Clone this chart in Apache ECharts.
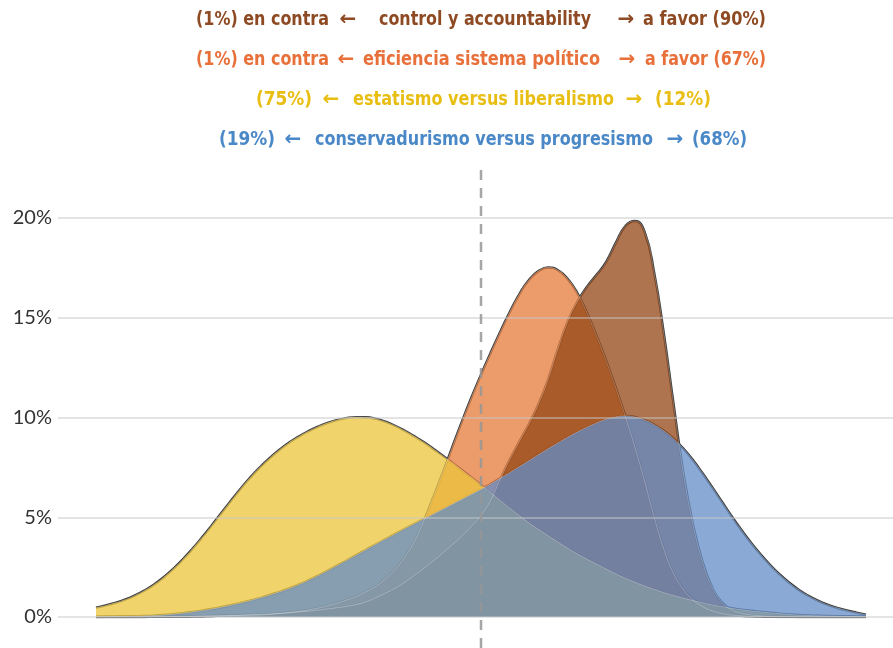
<!DOCTYPE html>
<html>
<head>
<meta charset="utf-8">
<script src="https://cdn.jsdelivr.net/npm/echarts@6/dist/echarts.min.js"></script>
<style>
html,body{margin:0;padding:0;background:#fff;}
#chart{width:893px;height:648px;}
</style>
</head>
<body>
<div id="chart"></div>
<script>
// ---- data ----
const xValues = [
  -1, -0.975, -0.95, -0.925, -0.9, -0.875, -0.85, -0.825, -0.8, -0.775,
  -0.75, -0.725, -0.7, -0.675, -0.65, -0.625, -0.6, -0.575, -0.55, -0.525,
  -0.5, -0.475, -0.45, -0.425, -0.4, -0.375, -0.35, -0.325, -0.3, -0.275,
  -0.25, -0.225, -0.2, -0.175, -0.15, -0.125, -0.1, -0.075, -0.05, -0.025,
  0, 0.025, 0.05, 0.075, 0.1, 0.125, 0.15, 0.175, 0.2, 0.225,
  0.25, 0.275, 0.3, 0.325, 0.35, 0.375, 0.4, 0.425, 0.45, 0.475,
  0.5, 0.525, 0.55, 0.575, 0.6, 0.625, 0.65, 0.675, 0.7, 0.725,
  0.75, 0.775, 0.8, 0.825, 0.85, 0.875, 0.9, 0.925, 0.95, 0.975, 1];

const eficiencia = [
  0, 0, 0, 0, 0, 0, 0.01, 0.01, 0.02, 0.02,
  0.03, 0.04, 0.05, 0.06, 0.07, 0.08, 0.09, 0.1, 0.13, 0.17,
  0.22, 0.28, 0.35, 0.44, 0.55, 0.68, 0.84, 1.02, 1.25, 1.52,
  1.88, 2.35, 2.95, 3.72, 4.75, 5.95, 7.2, 8.5, 9.78, 11.0,
  12.15, 13.25, 14.3, 15.3, 16.2, 16.9, 17.35, 17.52, 17.38, 16.95,
  16.25, 15.25, 14.1, 12.85, 11.5, 10.05, 8.5, 6.8, 5.0, 3.4,
  2.2, 1.4, 0.87, 0.53, 0.31, 0.18, 0.1, 0.06, 0.03, 0.02,
  0.01, 0, 0, 0, 0, 0, 0, 0, 0, 0, 0];

const control = [
  0, 0, 0, 0, 0, 0, 0.01, 0.01, 0.02, 0.02,
  0.03, 0.04, 0.05, 0.06, 0.07, 0.09, 0.11, 0.13, 0.15, 0.18,
  0.21, 0.25, 0.29, 0.34, 0.4, 0.46, 0.53, 0.62, 0.75, 0.95,
  1.18, 1.42, 1.72, 2.06, 2.42, 2.8, 3.2, 3.62, 4.06, 4.55,
  5.1, 5.85, 6.9, 7.9, 8.8, 9.7, 10.7, 11.95, 13.45, 14.8,
  15.8, 16.55, 17.15, 17.8, 18.75, 19.6, 19.85, 19.3, 17.25, 14.2,
  10.7, 7.3, 4.7, 2.8, 1.5, 0.75, 0.38, 0.2, 0.11, 0.06,
  0.03, 0.02, 0.01, 0, 0, 0, 0, 0, 0, 0, 0];

const estatismo = [
  0.47, 0.58, 0.71, 0.87, 1.07, 1.32, 1.62, 1.98, 2.4, 2.88,
  3.41, 3.98, 4.58, 5.2, 5.82, 6.42, 6.98, 7.49, 7.95, 8.36,
  8.72, 9.03, 9.3, 9.53, 9.72, 9.87, 9.97, 10.02, 10.01, 9.94,
  9.8, 9.6, 9.36, 9.08, 8.78, 8.45, 8.1, 7.74, 7.37, 7.0,
  6.62, 6.23, 5.84, 5.45, 5.07, 4.71, 4.38, 4.06, 3.75, 3.45,
  3.16, 2.9, 2.65, 2.4, 2.16, 1.94, 1.74, 1.55, 1.38, 1.22,
  1.08, 0.95, 0.83, 0.72, 0.61, 0.52, 0.44, 0.37, 0.31, 0.26,
  0.21, 0.17, 0.13, 0.1, 0.08, 0.06, 0.05, 0.04, 0.03, 0.02, 0.02];

const conservadurismo = [
  0, 0.01, 0.02, 0.03, 0.04, 0.05, 0.07, 0.1, 0.14, 0.19,
  0.25, 0.32, 0.4, 0.49, 0.59, 0.7, 0.82, 0.95, 1.09, 1.25,
  1.42, 1.61, 1.82, 2.05, 2.3, 2.56, 2.82, 3.09, 3.36, 3.62,
  3.88, 4.14, 4.4, 4.65, 4.9, 5.15, 5.4, 5.65, 5.9, 6.15,
  6.4, 6.67, 6.95, 7.24, 7.54, 7.84, 8.14, 8.44, 8.73, 9.01,
  9.27, 9.51, 9.73, 9.91, 10.03, 10.08, 10.02, 9.87, 9.64, 9.33,
  8.94, 8.46, 7.88, 7.22, 6.52, 5.8, 5.08, 4.4, 3.76, 3.17,
  2.63, 2.15, 1.73, 1.37, 1.07, 0.82, 0.62, 0.46, 0.33, 0.22, 0.12];

const seriesNames = ['eficiencia sistema político', 'control y accountability', 'estatismo versus liberalismo', 'conservadurismo versus progresismo'];
const seriesValues = [eficiencia, control, estatismo, conservadurismo];
const fillColors = ['#E67A3A', '#934614', '#ECC43A', '#638CC7'];

// title lines (top to bottom)
const titleMiddle = ['control y accountability', 'eficiencia sistema político', 'estatismo versus liberalismo', 'conservadurismo versus progresismo'];
const titleLeft = ['(1%) en contra', '(1%) en contra', '(75%)', '(19%)'];
const titleRight = ['a favor (90%)', 'a favor (67%)', '(12%)', '(68%)'];
const titleColors = ['#8E4A22', '#E8703A', '#E9BE12', '#4A88C7'];

const yTickInterval = 5;

// ---- layout (positions and target widths of title pieces) ----
const titleLayout = [
  {y: 20, left: [196, 329], arrL: 348, mid: [379, 591], arrR: 626, right: [643, 766]},
  {y: 60, left: [196, 329], arrL: 346, mid: [363, 600], arrR: 627, right: [645, 766]},
  {y: 100, left: [256, 312], arrL: 331, mid: [353, 614], arrR: 634, right: [655, 711]},
  {y: 140, left: [219, 275], arrL: 293, mid: [315, 653], arrR: 675, right: [692, 747]}
];
const titleFont = "bold 20px 'Liberation Sans Narrow', 'DejaVu Sans Condensed', 'Roboto', sans-serif";
const arrowFont = "bold 20px 'DejaVu Sans', sans-serif";

const measureCtx = document.createElement('canvas').getContext('2d');
function textWidth(t, font) { measureCtx.font = font; return measureCtx.measureText(t).width; }

const graphics = [];
titleLayout.forEach((L, i) => {
  const c = titleColors[i];
  const mk = (text, span, align, font) => {
    let x, sx = 1;
    if (Array.isArray(span)) {
      const w = span[1] - span[0];
      sx = Math.min(1.15, w / textWidth(text, font));
      x = align === 'right' ? span[1] : align === 'left' ? span[0] : (span[0] + span[1]) / 2;
    } else {
      x = span;
      sx = Math.min(1, 19 / textWidth(text, font));
    }
    return {
      type: 'text', x: x, y: L.y, scaleX: sx, silent: true,
      style: {text: text, fill: c, font: font, align: align, verticalAlign: 'middle', textAlign: align, textVerticalAlign: 'middle'}
    };
  };
  graphics.push(mk(titleLeft[i], L.left, 'right', titleFont));
  graphics.push(mk('\u2190', L.arrL, 'center', arrowFont));
  graphics.push(mk(titleMiddle[i], L.mid, 'center', titleFont));
  graphics.push(mk('\u2192', L.arrR, 'center', arrowFont));
  graphics.push(mk(titleRight[i], L.right, 'left', titleFont));
});

const toPairs = arr => arr.map((v, i) => [xValues[i], v]);
const SMOOTH = 0.5;

const series = [];
// dark outline layer (under fills)
seriesValues.forEach((vals, i) => {
  series.push({
    type: 'line', name: seriesNames[i] + ' borde', data: toPairs(vals), smooth: SMOOTH,
    showSymbol: false, silent: true, z: 1,
    lineStyle: {color: '#383838', width: 2.4}
  });
});
// fills
seriesValues.forEach((vals, i) => {
  series.push({
    type: 'line', name: seriesNames[i], data: toPairs(vals), smooth: SMOOTH,
    showSymbol: false, silent: true, z: 2,
    lineStyle: {width: 0},
    areaStyle: {color: fillColors[i], opacity: 0.75}
  });
});
// light inner lines on top
seriesValues.forEach((vals, i) => {
  series.push({
    type: 'line', name: seriesNames[i] + ' línea', data: toPairs(vals), smooth: SMOOTH,
    showSymbol: false, silent: true, z: 3,
    lineStyle: {color: 'rgba(255,255,255,0.28)', width: 1}
  });
});
// dashed reference line at the midpoint
series.push({
  type: 'line', xAxisIndex: 1, yAxisIndex: 1, data: [[0, 0], [0, 1]],
  showSymbol: false, silent: true, z: 6,
  lineStyle: {color: 'rgba(150,150,150,0.85)', width: 2.5, type: [10, 8]}
});

const chart = echarts.init(document.getElementById('chart'), null, {renderer: 'canvas'});
chart.setOption({
  animation: false,
  backgroundColor: '#ffffff',
  graphic: graphics,
  grid: [
    {left: 58, right: 0, top: 218, bottom: 31, containLabel: false},
    {left: 58, right: 0, top: 170, bottom: 0, containLabel: false}
  ],
  xAxis: [
    {type: 'value', gridIndex: 0, min: -1.0987, max: 1.0701, show: false},
    {type: 'value', gridIndex: 1, min: -1.0987, max: 1.0701, show: false}
  ],
  yAxis: [
    {
      type: 'value', gridIndex: 0, min: 0, max: 20, interval: yTickInterval, z: 4,
      axisLine: {show: false}, axisTick: {show: false},
      axisLabel: {formatter: '{value}%', color: '#333333', fontSize: 20, fontFamily: 'Lato, Roboto, sans-serif', margin: 6},
      splitLine: {show: true, lineStyle: {color: 'rgba(200,200,200,0.65)', width: 1.5}}
    },
    {type: 'value', gridIndex: 1, min: 0, max: 1, show: false}
  ],
  series: series
});
</script>
</body>
</html>
